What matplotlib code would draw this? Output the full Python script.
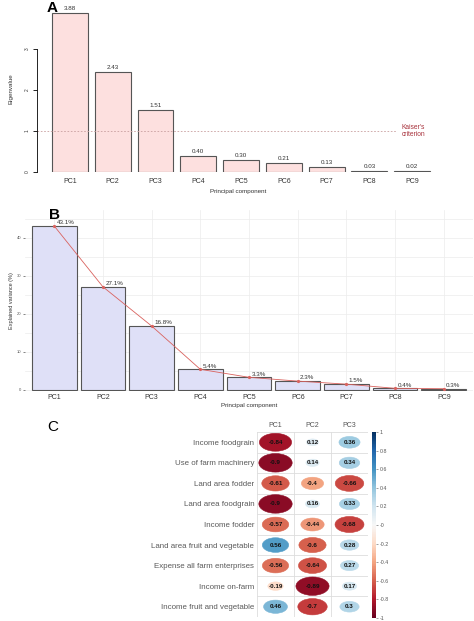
import numpy as np
import matplotlib
matplotlib.use("Agg")
import matplotlib.pyplot as plt
from matplotlib.patches import Ellipse
from matplotlib import cm, colors

plt.rcParams['font.family'] = ['Liberation Sans', 'DejaVu Sans']

# Data
components = ["PC1", "PC2", "PC3", "PC4", "PC5", "PC6", "PC7", "PC8", "PC9"]
eigenvalues = [3.88, 2.43, 1.51, 0.40, 0.30, 0.21, 0.13, 0.03, 0.02]
explained_var = [43.1, 27.1, 16.8, 5.4, 3.3, 2.3, 1.5, 0.4, 0.3]

variables = [
    "Income foodgrain",
    "Use of farm machinery",
    "Land area fodder",
    "Land area foodgrain",
    "Income fodder",
    "Land area fruit and vegetable",
    "Expense all farm enterprises",
    "Income on-farm",
    "Income fruit and vegetable",
]
loadings_pc1 = [-0.84, -0.9, -0.61, -0.9, -0.57, 0.56, -0.56, -0.19, 0.46]
loadings_pc2 = [0.12, 0.14, -0.4, 0.16, -0.44, -0.6, -0.64, -0.89, -0.7]
loadings_pc3 = [0.36, 0.34, -0.66, 0.33, -0.68, 0.28, 0.27, 0.17, 0.3]

W, H = 474, 621


def px_rect(l, t, r, b):
    return [l / W, 1 - b / H, (r - l) / W, (b - t) / H]


fig = plt.figure(figsize=(W / 100, H / 100), dpi=100)

# ---------------- Panel A: eigenvalues ----------------
axA = fig.add_axes(px_rect(37, 5, 440, 172))
x = np.arange(len(components))
axA.bar(x, eigenvalues, width=0.84, color="#fde0df",
        edgecolor="#555555", linewidth=0.8)
for xi, v in zip(x, eigenvalues):
    axA.text(xi, v + 0.05, f"{v:.2f}", ha="center", va="bottom",
             fontsize=4.5, color="#333333")
axA.axhline(1, xmin=0, xmax=0.89, color="#c9a0a0", lw=0.6, ls=(0, (2, 2)))
axA.text(7.75, 1.0, "Kaiser's\ncriterion", ha="left", va="center",
         fontsize=4.8, color="#a8323c", linespacing=0.9)
axA.set_xlim(-0.77, 8.65)
axA.set_ylim(0, 4.07)
axA.set_xticks(x)
axA.set_xticklabels(components, fontsize=5, color="#333333")
axA.tick_params(axis="x", length=0, pad=4)
axA.set_yticks([0, 1, 2, 3])
axA.set_yticklabels(["0", "1", "2", "3"], fontsize=3.5, rotation=90,
                    va="center", color="#333333")
axA.tick_params(axis="y", length=3, width=0.6, pad=2)
for s in ["top", "right", "bottom"]:
    axA.spines[s].set_visible(False)
axA.spines["left"].set_bounds(0, 3)
axA.spines["left"].set_linewidth(0.6)
axA.set_xlabel("Principal component", fontsize=4.5, labelpad=3, color="#333333")
axA.set_ylabel("Eigenvalue", fontsize=4.5, labelpad=8, color="#333333")
fig.text(47 / W, 1 - 8 / H, "A", fontsize=11, fontweight="bold", va="center")

# ---------------- Panel B: explained variance ----------------
axB = fig.add_axes(px_rect(25, 210, 473, 391))
axB.bar(x, explained_var, width=0.92, color="#dfe0f7",
        edgecolor="#555555", linewidth=0.8, zorder=2)
axB.plot(x, explained_var, color="#d9625e", lw=0.6, marker="o",
         markersize=1.3, zorder=3)
for xi, v in zip(x, explained_var):
    axB.text(xi + 0.05, v + 0.2, f"{v:.1f}%", ha="left", va="bottom",
             fontsize=4.5, color="#333333", zorder=4)
axB.set_xlim(-0.6, 8.6)
axB.set_ylim(-0.3, 47.3)
axB.set_xticks(x)
axB.set_xticklabels(components, fontsize=5, color="#333333")
axB.tick_params(axis="x", length=0, pad=2)
axB.set_yticks([0, 10, 20, 30, 40])
axB.set_yticklabels(["0", "10", "20", "30", "40"], fontsize=3, color="#555555")
axB.set_yticks([5, 15, 25, 35, 45], minor=True)
axB.tick_params(axis="y", which="major", length=1.5, width=0.5, pad=1,
                color="#555555")
axB.tick_params(axis="y", which="minor", length=0)
axB.grid(True, which="both", color="#ececec", lw=0.5, zorder=0)
axB.set_axisbelow(True)
for s in axB.spines.values():
    s.set_visible(False)
axB.set_xlabel("Principal component", fontsize=4.5, labelpad=1.5, color="#333333")
axB.set_ylabel("Explained variance (%)", fontsize=4, labelpad=2, color="#333333")
fig.text(49 / W, 1 - 215 / H, "B", fontsize=11, fontweight="bold", va="center")

# ---------------- Panel C: correlation plot ----------------
axC = fig.add_axes(px_rect(257, 432, 368, 617))
loadings = np.array([loadings_pc1, loadings_pc2, loadings_pc3]).T
nrow, ncol = loadings.shape
cmap = plt.get_cmap("RdBu")
norm = colors.Normalize(vmin=-1, vmax=1)
for i in range(nrow):
    for j in range(ncol):
        r = loadings[i, j]
        d = 0.95 * np.sqrt(abs(r))
        c = cmap(norm(r))
        axC.add_patch(Ellipse((j, i), d, d, facecolor=c, edgecolor=c,
                              lw=0.4, zorder=2))
        axC.text(j, i, f"{r:g}", ha="center", va="center", fontsize=4.5,
                 fontweight="bold", color="#111111", zorder=3)
for k in range(ncol + 1):
    axC.axvline(k - 0.5, color="#dddddd", lw=0.6, zorder=1)
for k in range(nrow + 1):
    axC.axhline(k - 0.5, color="#dddddd", lw=0.6, zorder=1)
axC.set_xlim(-0.5, ncol - 0.5)
axC.set_ylim(nrow - 0.5, -0.5)
axC.set_xticks(range(ncol))
axC.set_xticklabels(components[:ncol], fontsize=5, color="#555555")
axC.xaxis.tick_top()
axC.set_yticks(range(nrow))
axC.set_yticklabels(variables, fontsize=5.7, color="#5a5a5a")
axC.tick_params(length=0, pad=2)
for s in axC.spines.values():
    s.set_visible(False)
fig.text(47 / W, 1 - 427 / H, "C", fontsize=11, va="center")

# colour bar
axCb = fig.add_axes(px_rect(372, 432, 376, 618))
sm = cm.ScalarMappable(norm=norm, cmap=cmap)
cb = fig.colorbar(sm, cax=axCb)
cb_ticks = np.round(np.arange(-1, 1.01, 0.2), 1)
cb.set_ticks(cb_ticks)
cb.set_ticklabels([f"{t:g}" for t in cb_ticks])
cb.ax.tick_params(labelsize=3.8, length=1.5, width=0.4, pad=1,
                  colors="#555555")
cb.outline.set_visible(False)

fig.savefig("out.png", dpi=100)
